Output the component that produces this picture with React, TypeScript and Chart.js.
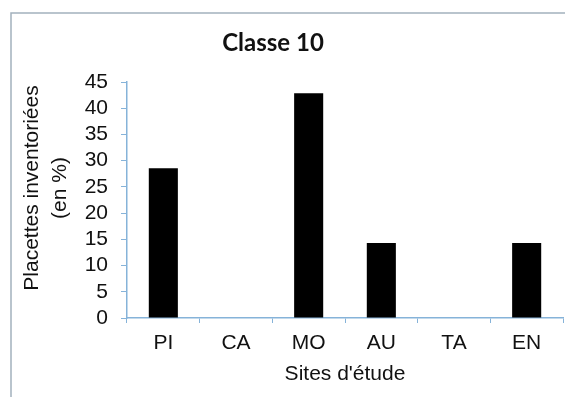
import React, { useEffect, useRef } from "react";
import { Chart, registerables } from "chart.js";

Chart.register(...registerables);

const categories = ["PI", "CA", "MO", "AU", "TA", "EN"];
const values = [28.57, 0, 42.86, 14.29, 0, 14.29];
const chartTitle = "Classe 10";
const yTitleLines = ["Placettes inventoriées", "(en %)"];
const xTitle = "Sites d'étude";

const AXIS = "#86b3d9";
const TEXT = "#111111";
const FONT = "'Liberation Sans', Arial, sans-serif";

const framePlugin = {
  id: "frame",
  beforeDraw(chart: any) {
    const ctx = chart.ctx;
    ctx.save();
    ctx.fillStyle = "#ffffff";
    ctx.fillRect(0, 0, chart.width, chart.height);
    ctx.strokeStyle = "#a3b1bd";
    ctx.lineWidth = 1.5;
    ctx.beginPath();
    ctx.moveTo(11, chart.height + 5);
    ctx.lineTo(11, 13);
    ctx.lineTo(chart.width + 5, 13);
    ctx.stroke();
    ctx.restore();
  },
  afterDraw(chart: any) {
    const ctx = chart.ctx;
    ctx.save();
    ctx.fillStyle = TEXT;
    ctx.textAlign = "center";
    ctx.textBaseline = "middle";
    ctx.font = `bold 24px Lato, 'Open Sans', sans-serif`;
    ctx.fillText(chartTitle, 273, 43);
    ctx.font = `21px ${FONT}`;
    ctx.translate(32, 188);
    ctx.rotate(-Math.PI / 2);
    ctx.fillText(yTitleLines[0], 0, 0);
    ctx.fillText(yTitleLines[1], 0, 28);
    ctx.restore();
  },
};

export default function App() {
  const ref = useRef<HTMLCanvasElement>(null);
  useEffect(() => {
    if (!ref.current) return;
    const chart = new Chart(ref.current, {
      type: "bar",
      data: {
        labels: categories,
        datasets: [
          {
            data: values,
            backgroundColor: "#000000",
            borderColor: "#000000",
            borderWidth: 0,
            categoryPercentage: 1,
            barPercentage: 0.4,
          },
        ],
      },
      options: {
        responsive: false,
        animation: false,
        layout: { padding: { left: 0, right: 2, top: 82, bottom: 0 } },
        plugins: {
          legend: { display: false },
          tooltip: { enabled: false },
          title: { display: false },
        },
        scales: {
          x: {
            grid: {
              display: true,
              drawOnChartArea: false,
              drawTicks: true,
              tickLength: 5,
              color: AXIS,
              offset: true,
            },
            border: { display: true, color: AXIS, width: 1.5 },
            ticks: {
              color: TEXT,
              font: { family: FONT, size: 21 },
              padding: 8,
              maxRotation: 0,
            },
            title: {
              display: true,
              text: xTitle,
              color: TEXT,
              font: { family: FONT, size: 21 },
              padding: { top: 2, bottom: 10 },
            },
            afterFit: (s: any) => {
              s.height = 79;
            },
          },
          y: {
            min: 0,
            max: 45,
            grid: {
              display: true,
              drawOnChartArea: false,
              drawTicks: true,
              tickLength: 6,
              color: AXIS,
            },
            border: { display: true, color: AXIS, width: 1.5 },
            ticks: {
              stepSize: 5,
              autoSkip: false,
              color: TEXT,
              font: { family: FONT, size: 21 },
              padding: 13,
            },
            afterFit: (s: any) => {
              s.width = 127;
            },
          },
        },
      },
      plugins: [framePlugin],
    });
    return () => chart.destroy();
  }, []);
  return (
    <div style={{ position: "fixed", left: 0, top: 0, width: 565, height: 397, background: "#fff" }}>
      <canvas ref={ref} width={565} height={397} style={{ display: "block", width: 565, height: 397 }} />
    </div>
  );
}
